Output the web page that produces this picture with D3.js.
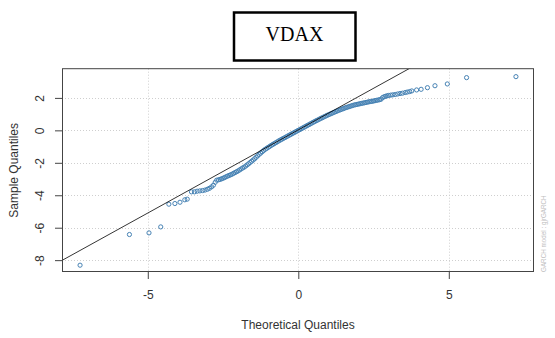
<!DOCTYPE html>
<html>
<head>
<meta charset="utf-8">
<script src="https://cdn.jsdelivr.net/npm/d3@7"></script>
<style>
  body { margin: 0; background: #fff; }
  svg { display: block; font-family: "Liberation Sans", Arial, sans-serif; }
</style>
</head>
<body>
<div id="chart"></div>
<div id="chart_err"></div>
<script>
// Axis ticks
var xTicks = [-5, 0, 5],
    yTicks = [2, 0, -2, -4, -6, -8];

// Quantile pairs [theoretical, sample]
var qqLower = [
  [-7.25, -8.31], [-5.61, -6.42], [-4.96, -6.32], [-4.57, -5.95],
  [-4.30, -4.55], [-4.10, -4.51], [-3.93, -4.43], [-3.77, -4.28],
  [-3.69, -4.24], [-3.55, -3.79], [-3.45, -3.79], [-3.36, -3.75],
  [-3.27, -3.73], [-3.18, -3.71], [-3.10, -3.68], [-3.02, -3.63],
  [-2.95, -3.57], [-2.88, -3.48], [-2.82, -3.38], [-2.76, -3.20],
  [-2.71, -3.07]
];

var qqBody = [
  [-2.65, -3.05], [-2.60, -3.02], [-2.55, -2.99], [-2.50, -2.95],
  [-2.45, -2.91], [-2.40, -2.86], [-2.35, -2.82], [-2.30, -2.78],
  [-2.25, -2.74], [-2.20, -2.70], [-2.15, -2.65], [-2.10, -2.60],
  [-2.05, -2.55], [-2.00, -2.50], [-1.95, -2.44], [-1.90, -2.38],
  [-1.85, -2.32], [-1.80, -2.27], [-1.75, -2.20], [-1.70, -2.13],
  [-1.65, -2.06], [-1.60, -1.98], [-1.55, -1.90], [-1.50, -1.83],
  [-1.45, -1.75], [-1.40, -1.66], [-1.35, -1.57], [-1.30, -1.48],
  [-1.25, -1.40], [-1.20, -1.32], [-1.15, -1.24], [-1.10, -1.17],
  [-1.05, -1.11], [-1.00, -1.05], [-0.95, -0.99], [-0.90, -0.93],
  [-0.85, -0.87], [-0.80, -0.82], [-0.75, -0.76], [-0.70, -0.71],
  [-0.65, -0.65], [-0.60, -0.60], [-0.55, -0.55], [-0.50, -0.50],
  [-0.45, -0.45], [-0.40, -0.40], [-0.35, -0.35], [-0.30, -0.30],
  [-0.25, -0.25], [-0.20, -0.20], [-0.15, -0.15], [-0.10, -0.10],
  [-0.05, -0.05], [0.00, 0.00], [0.05, 0.05], [0.10, 0.10],
  [0.15, 0.15], [0.20, 0.20], [0.25, 0.25], [0.30, 0.30],
  [0.35, 0.35], [0.40, 0.40], [0.45, 0.45], [0.50, 0.50],
  [0.55, 0.55], [0.60, 0.60], [0.65, 0.64], [0.70, 0.69],
  [0.75, 0.74], [0.80, 0.78], [0.85, 0.83], [0.90, 0.87],
  [0.95, 0.92], [1.00, 0.96], [1.05, 1.00], [1.10, 1.04],
  [1.15, 1.08], [1.20, 1.12], [1.25, 1.16], [1.30, 1.20],
  [1.35, 1.24], [1.40, 1.27], [1.45, 1.31], [1.50, 1.34],
  [1.55, 1.38], [1.60, 1.41], [1.65, 1.44], [1.70, 1.47],
  [1.75, 1.50], [1.80, 1.53], [1.85, 1.56], [1.90, 1.58],
  [1.95, 1.60], [2.00, 1.62], [2.05, 1.64], [2.10, 1.66],
  [2.15, 1.68], [2.20, 1.70], [2.25, 1.72], [2.30, 1.74],
  [2.35, 1.76], [2.40, 1.78], [2.45, 1.79], [2.50, 1.81],
  [2.55, 1.83], [2.60, 1.85], [2.65, 1.87], [2.70, 1.89]
];

var qqUpper = [
  [2.75, 1.92], [2.80, 2.02], [2.85, 2.07], [2.90, 2.10],
  [2.95, 2.13], [3.00, 2.15], [3.07, 2.17], [3.14, 2.19],
  [3.22, 2.21], [3.30, 2.24], [3.38, 2.27], [3.46, 2.29],
  [3.55, 2.33], [3.62, 2.36], [3.70, 2.39], [3.77, 2.43],
  [3.93, 2.49], [4.08, 2.53], [4.29, 2.63], [4.54, 2.75],
  [4.95, 2.86], [5.59, 3.25], [7.23, 3.31]
];

// qqline: intercept, slope
var refLine = [0.03, 1.025];

var chartTitle = "VDAX",
    xTitle = "Theoretical Quantiles",
    yTitle = "Sample Quantiles",
    modelNote = "GARCH model : gjrGARCH";

var qqchart = (function (d3) {
  "use strict";

  var loc_divErr = "chart_err",
      width = 555,
      height = 338,
      box = { left: 62, right: 534, top: 68.7, bottom: 272 };

  var private_methods = {
    errMsg: function (sMsg, ex) {
      d3.select("#" + loc_divErr).html("Error in [" + sMsg + "]<br>" + ex.message);
    }
  };

  return {
    draw: function (sDiv) {
      var svg = null,
          x = null,
          y = null,
          gAxis = null,
          points = null,
          x0 = 0,
          x1 = 0;

      try {
        svg = d3.select(sDiv).append("svg")
          .attr("width", width)
          .attr("height", height);

        x = d3.scaleLinear().domain([-7.85, 7.83]).range([box.left, box.right]);
        y = d3.scaleLinear().domain([-8.73, 3.80]).range([box.bottom, box.top]);

        svg.append("clipPath").attr("id", "plotclip")
          .append("rect")
          .attr("x", box.left).attr("y", box.top)
          .attr("width", box.right - box.left)
          .attr("height", box.bottom - box.top);

        // Dotted grid
        svg.append("g").selectAll("line.vg")
          .data(xTicks).enter().append("line")
          .attr("x1", function (d) { return Math.round(x(d)) + 0.5; })
          .attr("x2", function (d) { return Math.round(x(d)) + 0.5; })
          .attr("y1", box.top).attr("y2", box.bottom)
          .attr("stroke", "#cfcfcf").attr("stroke-dasharray", "1,2");
        svg.append("g").selectAll("line.hg")
          .data(yTicks).enter().append("line")
          .attr("y1", function (d) { return Math.round(y(d)) + 0.5; })
          .attr("y2", function (d) { return Math.round(y(d)) + 0.5; })
          .attr("x1", box.left).attr("x2", box.right)
          .attr("stroke", "#cfcfcf").attr("stroke-dasharray", "1,2");

        // Points
        points = qqLower.concat(qqBody, qqUpper);
        svg.append("g").attr("clip-path", "url(#plotclip)")
          .selectAll("circle")
          .data(points).enter().append("circle")
          .attr("cx", function (d) { return x(d[0]); })
          .attr("cy", function (d) { return y(d[1]); })
          .attr("r", 2.1)
          .attr("fill", "none")
          .attr("stroke", "#4682b4")
          .attr("stroke-width", 1);

        // Reference line
        x0 = x.domain()[0];
        x1 = x.domain()[1];
        svg.append("line").attr("clip-path", "url(#plotclip)")
          .attr("x1", x(x0)).attr("y1", y(refLine[0] + refLine[1] * x0))
          .attr("x2", x(x1)).attr("y2", y(refLine[0] + refLine[1] * x1))
          .attr("stroke", "#000").attr("stroke-width", 0.8);

        // Box
        svg.append("rect")
          .attr("x", box.left + 0.5).attr("y", box.top)
          .attr("width", box.right - box.left - 1)
          .attr("height", box.bottom - box.top - 0.5)
          .attr("fill", "none").attr("stroke", "#444").attr("stroke-width", 1);

        // Bottom axis
        gAxis = svg.append("g")
          .attr("transform", "translate(0," + box.bottom + ")")
          .call(d3.axisBottom(x).tickValues(xTicks).tickSize(7).tickPadding(11)
                  .tickFormat(d3.format("d")));
        gAxis.select(".domain").remove();
        gAxis.selectAll(".tick line").attr("stroke", "#444");
        gAxis.selectAll("text").attr("font-size", 12).attr("fill", "#333")
          .text(function (d) { return d < 0 ? "-" + Math.abs(d) : d; });

        // Left axis, labels parallel to the axis
        gAxis = svg.append("g")
          .attr("transform", "translate(" + box.left + ",0)")
          .call(d3.axisLeft(y).tickValues(yTicks).tickSize(7));
        gAxis.select(".domain").remove();
        gAxis.selectAll(".tick line").attr("stroke", "#444");
        gAxis.selectAll("text")
          .attr("font-size", 12).attr("fill", "#333")
          .attr("transform", "rotate(-90)")
          .attr("x", 0).attr("y", -18.2).attr("dy", 0)
          .attr("text-anchor", "middle")
          .text(function (d) { return d < 0 ? "-" + Math.abs(d) : d; });

        // Axis titles
        svg.append("text")
          .attr("x", (box.left + box.right) / 2).attr("y", 329)
          .attr("text-anchor", "middle").attr("font-size", 12).attr("fill", "#333")
          .text(xTitle);
        svg.append("text")
          .attr("transform", "translate(17.5," + ((box.top + box.bottom) / 2) + ") rotate(-90)")
          .attr("text-anchor", "middle").attr("font-size", 12).attr("fill", "#333")
          .text(yTitle);

        // Model note on the right margin
        svg.append("text")
          .attr("transform", "translate(546," + box.bottom + ") rotate(-90)")
          .attr("text-anchor", "start").attr("font-size", 6.3).attr("fill", "#bebebe")
          .text(modelNote);

        // Boxed title
        svg.append("rect")
          .attr("x", 234).attr("y", 12.5).attr("width", 121.5).attr("height", 48)
          .attr("fill", "#fff").attr("stroke", "#000").attr("stroke-width", 2.5);
        svg.append("text")
          .attr("x", 294.5).attr("y", 41)
          .attr("text-anchor", "middle")
          .attr("font-family", "'Liberation Serif', 'Times New Roman', serif")
          .attr("font-size", 20).attr("fill", "#000")
          .text(chartTitle);
      } catch (ex) {
        private_methods.errMsg("draw", ex);
      }
    }
  };
}(d3));

qqchart.draw("#chart");
</script>
</body>
</html>
